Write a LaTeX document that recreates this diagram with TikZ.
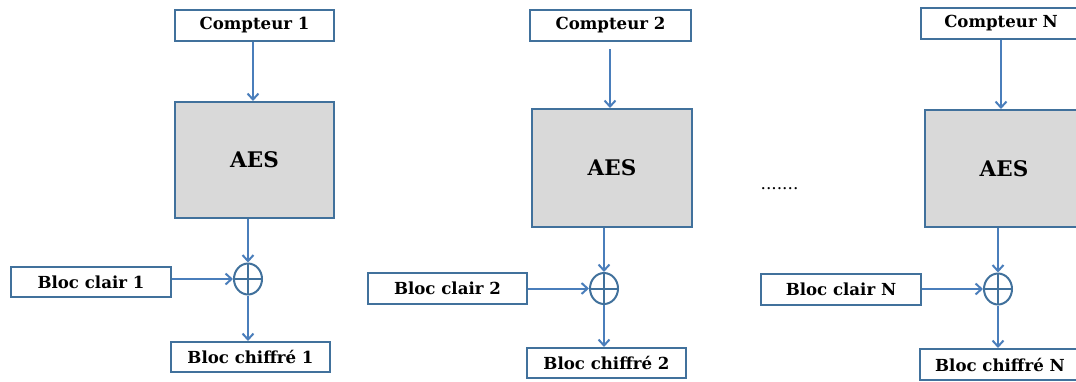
\documentclass[tikz,border=0pt]{standalone}
\usepackage{fontspec}
\setmainfont{DejaVu Serif}
\usetikzlibrary{arrows.meta,shapes.geometric}

\definecolor{boxline}{HTML}{41719C}
\definecolor{arrowline}{HTML}{4A7EBB}
\definecolor{aesfill}{HTML}{D9D9D9}

\tikzset{
  blockbox/.style={draw=boxline, line width=2pt, fill=white, inner sep=0pt,
    minimum width=159pt, minimum height=30pt,
    font=\fontsize{16.6}{18}\selectfont\bfseries},
  aesbox/.style={draw=boxline, line width=2pt, fill=aesfill, inner sep=0pt,
    minimum width=159pt, minimum height=117pt,
    font=\fontsize{21.5}{24}\selectfont\bfseries},
  xorop/.style={ellipse, draw=boxline, line width=2pt, minimum width=28pt,
    minimum height=31pt, inner sep=0pt,
    path picture={\draw[boxline, line width=2pt]
      (path picture bounding box.north) -- (path picture bounding box.south)
      (path picture bounding box.west) -- (path picture bounding box.east);}},
  flow/.style={draw=arrowline, line width=2pt,
    -{Straight Barb[length=6pt,width=11pt,line width=2pt]}},
}

\begin{document}
\begin{tikzpicture}[x=1pt,y=-1pt]
  \useasboundingbox (0,0) rectangle (1076,381);
  \clip (0,0) rectangle (1076,381);

  % first counter block
  \node[blockbox, minimum width=159pt, minimum height=31pt] (c1) at (254.5,25.5) {Compteur 1};
  \node[aesbox, minimum height=116pt] (aes1) at (254.5,160) {AES};
  \node[xorop] (x1) at (248,279) {};
  \node[blockbox, minimum width=160pt] (p1) at (91,282) {Bloc clair 1};
  \node[blockbox] (e1) at (250.5,357) {Bloc chiffré 1};

  % second counter block
  \node[blockbox, minimum width=161pt, minimum height=31pt] (c2) at (610.5,25.5) {Compteur 2};
  \node[aesbox, minimum width=160pt, minimum height=118pt] (aes2) at (612,168) {AES};
  \node[xorop] (x2) at (604,288.5) {};
  \node[blockbox, minimum height=31pt] (p2) at (447.5,288.5) {Bloc clair 2};
  \node[blockbox] (e2) at (606.5,363) {Bloc chiffré 2};

  % ellipsis between the blocks
  \node[font=\fontsize{17}{18}\selectfont, inner sep=0pt, anchor=base] (dots) at (779.5,189) {.......};

  % last counter block
  \node[blockbox, minimum width=160pt, minimum height=31pt] (cN) at (1001,23.5) {Compteur N};
  \node[aesbox, minimum width=158pt] (aesN) at (1004,168.5) {AES};
  \node[xorop] (xN) at (998,289) {};
  \node[blockbox, minimum width=160pt, minimum height=31pt] (pN) at (841,289.5) {Bloc clair N};
  \node[blockbox, minimum width=160pt, minimum height=31pt] (eN) at (1000,364.5) {Bloc chiffré N};

  % connectors
  \foreach \i in {1,2,N} {
    \draw[flow] (aes\i.south -| x\i) -- (x\i.north);
    \draw[flow] (p\i.east |- x\i) -- (x\i.west);
    \draw[flow] (x\i.south) -- (e\i.north -| x\i);
  }
  \draw[flow] (c1.south -| 253,0) -- (aes1.north -| 253,0);
  \draw[flow, shorten <=7pt] (c2.south -| 610,0) -- (aes2.north -| 610,0);
  \draw[flow] (cN.south) -- (aesN.north -| cN.south);
\end{tikzpicture}
\end{document}
